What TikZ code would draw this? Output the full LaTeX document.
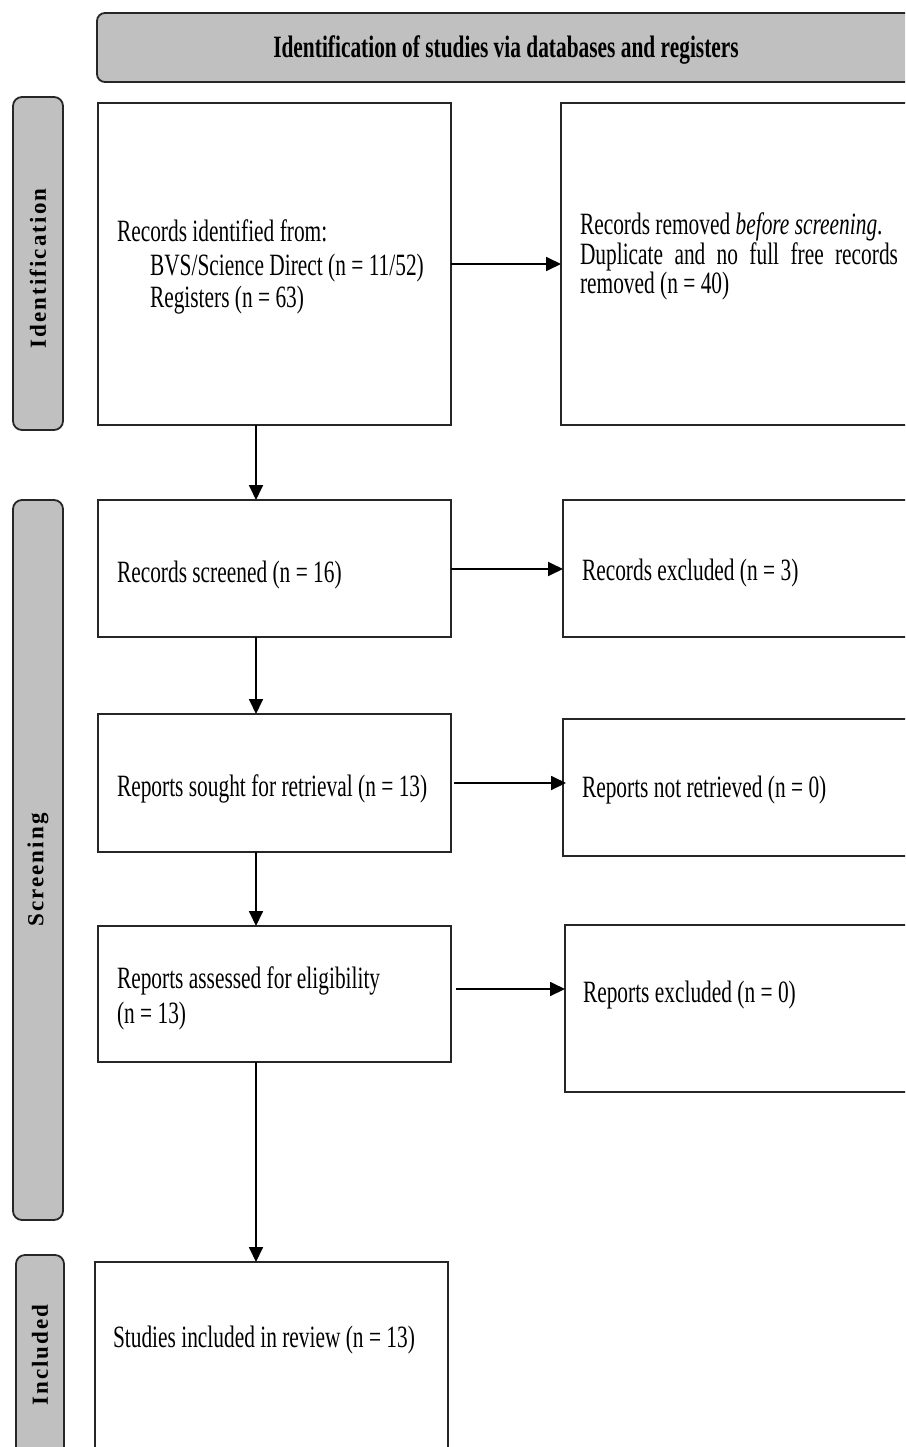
\documentclass[tikz,border=0pt]{standalone}
\usepackage{fontspec}
\setmainfont{Liberation Serif}
\newfontfamily\condfont{Liberation Serif}[FakeStretch=0.69]
\newfontfamily\sidefont{Liberation Serif}[LetterSpace=9]
\usetikzlibrary{arrows.meta}
\definecolor{silverfill}{HTML}{C0C0C0}
\definecolor{edge}{HTML}{262626}

\begin{document}
\begin{tikzpicture}[x=1pt,y=-1pt,
  every node/.style={inner sep=0pt, outer sep=0pt},
  frame/.style={draw=edge, line width=1.8pt, anchor=north west},
  phase/.style={draw=edge, line width=1.8pt, fill=silverfill, anchor=north west, rounded corners=9pt},
  flow/.style={-{Triangle[length=15pt,width=14pt]}, line width=1.8pt, black},
  txt/.style={font=\condfont\fontsize{31}{33}\selectfont, anchor=base west},
  headtxt/.style={font=\condfont\bfseries\fontsize{31}{33}\selectfont, anchor=base},
  sidetxt/.style={font=\sidefont\bfseries\fontsize{23}{23}\selectfont, rotate=90},
]
\useasboundingbox (0,0) rectangle (905,1447);
\fill[white] (0,0) rectangle (905,1447);
\clip (0,0) rectangle (905,1447);

% header bar
\node[phase, rounded corners=8pt, minimum width=863pt, minimum height=69pt] (head) at (97,13) {};
\node[headtxt] (headlbl) at (506,58) {Identification of studies via databases and registers};

% phase labels on the left
\node[phase, minimum width=50pt, minimum height=333pt] (idl) at (13,97) {};
\node[sidetxt] (idltxt) at ([yshift=-5pt]idl.center) {Identification};
\node[phase, minimum width=50pt, minimum height=720pt] (scl) at (13,500) {};
\node[sidetxt] (scltxt) at ([yshift=-10pt]scl.center) {Screening};
\node[phase, minimum width=48pt, minimum height=270pt] (inl) at (16,1255) {};
\node[sidetxt] (inltxt) at (40,1355) {Included};

% main column
\node[frame, minimum width=353pt, minimum height=322pt] (b1) at (98,103) {};
\node[frame, minimum width=353pt, minimum height=137pt] (b2) at (98,500) {};
\node[frame, minimum width=353pt, minimum height=138pt] (b3) at (98,714) {};
\node[frame, minimum width=353pt, minimum height=136pt] (b4) at (98,926) {};
\node[frame, minimum width=353pt, minimum height=240pt] (b5) at (95,1262) {};

% side column
\node[frame, minimum width=400pt, minimum height=322pt] (r1) at (561,103) {};
\node[frame, minimum width=400pt, minimum height=137pt] (r2) at (563,500) {};
\node[frame, minimum width=400pt, minimum height=137pt] (r3) at (563,719) {};
\node[frame, minimum width=400pt, minimum height=167pt] (r4) at (565,925) {};

% texts
\node[txt] (t1a) at (117,242) {Records identified from:};
\node[txt] (t1b) at (150,275) {BVS/Science Direct (n = 11/52)};
\node[txt] (t1c) at (150,307) {Registers (n = 63)};
\node[txt] (s1a) at (580,235) {Records removed \textit{before screening}.};
\node[txt] (s1b) at (580,264) {\makebox[318pt][s]{Duplicate and no full free records}};
\node[txt] (s1c) at (580,293) {removed (n = 40)};
\node[txt] (t2) at (117,582) {Records screened (n = 16)};
\node[txt] (s2) at (582,580) {Records excluded (n = 3)};
\node[txt] (t3) at (117,796) {Reports sought for retrieval (n = 13)};
\node[txt] (s3) at (582,797) {Reports not retrieved (n = 0)};
\node[txt] (t4a) at (117,988) {Reports assessed for eligibility};
\node[txt] (t4b) at (117,1023) {(n = 13)};
\node[txt] (s4) at (583,1002) {Reports excluded (n = 0)};
\node[txt] (t5) at (113,1347) {Studies included in review (n = 13)};

% flow downwards
\coordinate (c1) at ([xshift=158pt]b1.south west);
\coordinate (c2) at ([xshift=158pt]b2.south west);
\coordinate (c3) at ([xshift=158pt]b3.south west);
\coordinate (c4) at ([xshift=158pt]b4.south west);
\draw[flow] (c1) -- (c1 |- b2.north);
\draw[flow] (c2) -- (c2 |- b3.north);
\draw[flow] (c3) -- (c3 |- b4.north);
\draw[flow] (c4) -- (c4 |- b5.north);

% flow sideways
\draw[flow] (b1.east) -- (b1.east -| r1.west);
\draw[flow] ([yshift=-0.5pt]b2.east) -- ([yshift=-0.5pt]b2.east -| r2.west);
\draw[flow] ([xshift=3pt]b3.east) -- ([xshift=3pt]b3.east -| r3.west);
\draw[flow] ([shift={(5pt,5pt)}]b4.east) -- ([yshift=5pt]b4.east -| r4.west);
\end{tikzpicture}
\end{document}
